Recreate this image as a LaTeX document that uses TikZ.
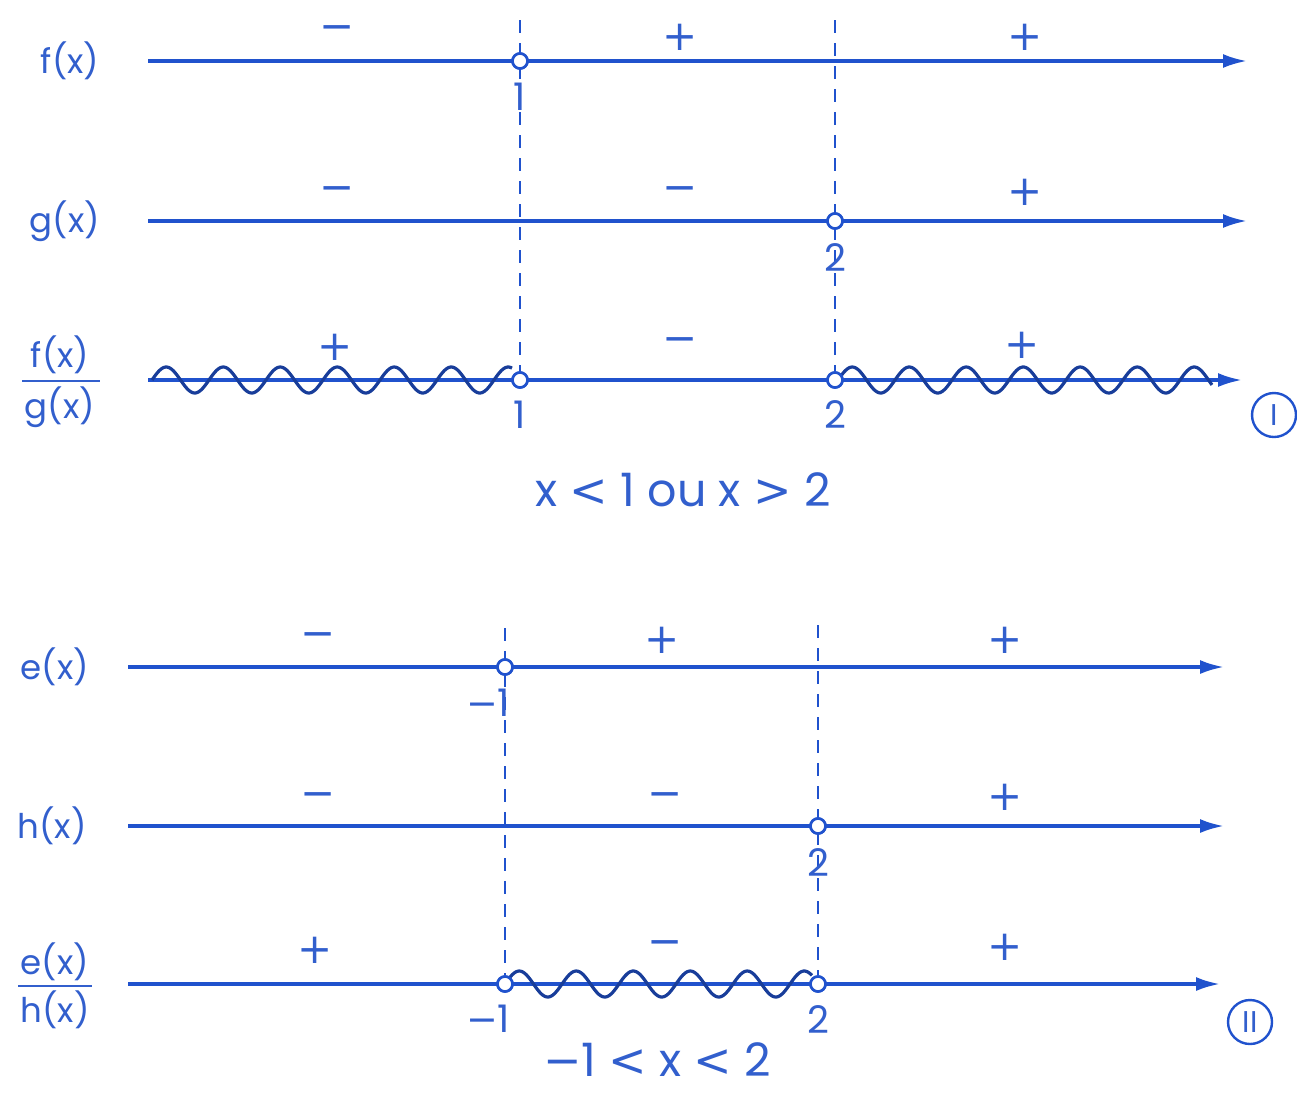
\documentclass[tikz,border=0pt]{standalone}
\usepackage{fontspec}
\setmainfont{Poppins}
\newfontfamily\symf{DejaVu Sans}
\usetikzlibrary{arrows.meta}
\definecolor{ink}{RGB}{32,82,205}
\definecolor{txt}{RGB}{50,95,205}
\begin{document}
\begin{tikzpicture}[x=1pt,y=-1pt,
 axis/.style={draw=ink,line width=3.2pt,-{Latex[length=24pt,width=14pt]}},
 opendot/.style={circle,draw=ink,fill=white,line width=2.6pt,minimum size=15pt,inner sep=0pt},
 guide/.style={draw=ink,line width=2.4pt,dash pattern=on 13pt off 10pt},
 wave/.style={draw=ink!75!black,line width=3.2pt},
 fn/.style={text=txt,font=\fontsize{34}{40}\selectfont,inner sep=0pt},
 sgn/.style={text=txt,font=\symf\fontsize{42}{46}\selectfont,inner sep=0pt},
 num/.style={text=txt,font=\fontsize{38}{44}\selectfont,inner sep=0pt},
 sol/.style={text=txt,font=\fontsize{46}{52}\selectfont,inner sep=0pt},
 tag/.style={circle,draw=ink,line width=2.4pt,minimum size=44pt,inner sep=0pt,text=txt,font=\fontsize{30}{34}\selectfont},
 bar/.style={draw=txt,line width=2.8pt}
]
\useasboundingbox (0,0) rectangle (1297,1096);

% ---------- Section I ----------
\coordinate (fS) at (148,61);  \coordinate (fE) at (1247,61);
\coordinate (gS) at (148,221); \coordinate (gE) at (1247,221);
\coordinate (qS) at (148,380); \coordinate (qE) at (1242,380);
\coordinate (t1) at (520,20);  \coordinate (t2) at (835,20);

\node[fn] (fl) at (70,61) {f(x)};
\node[fn] (gl) at (65,221) {g(x)};
\node[fn] (qn) at (60,355) {f(x)};
\node[fn] (qd) at (60,407) {g(x)};
\coordinate (qb1) at (22,381); \coordinate (qb2) at (100,381);
\draw[bar] (qb1) -- (qb2);

\draw[axis] (fS) -- (fE);
\draw[axis] (gS) -- (gE);
\draw[axis] (qS) -- (qE);

\draw[wave] plot[domain=152:512,samples=240,smooth] (\x,{380-13*sin((\x-152)/57*360)});
\draw[wave] plot[domain=838:1212,samples=240,smooth] (\x,{380-13*sin((\x-838)/57*360)});

\node[opendot] (f1) at (520,61) {};
\node[opendot] (g2) at (835,221) {};
\node[opendot] (q1) at (520,380) {};
\node[opendot] (q2) at (835,380) {};
\draw[guide] (t1) -- (q1);
\draw[guide] (t2) -- (q2);
\node[opendot] at (f1) {};
\node[opendot] at (g2) {};
\node[opendot] at (q1) {};
\node[opendot] at (q2) {};

\node[num] (n1a) at (520,97) {1};
\node[num] (n2a) at (835,258) {2};
\node[num] (n1b) at (520,415) {1};
\node[num] (n2b) at (835,415) {2};

\node[sgn] (s11) at (337,33) {−};
\node[sgn] (s12) at (680,37) {+};
\node[sgn] (s13) at (1025,37) {+};
\node[sgn] (s21) at (337,194) {−};
\node[sgn] (s22) at (680,194) {−};
\node[sgn] (s23) at (1025,192) {+};
\node[sgn] (s31) at (335,347) {+};
\node[sgn] (s32) at (680,345) {−};
\node[sgn] (s33) at (1022,345) {+};

\node[tag] (tI) at (1274,415) {I};
\node[sol] (solI) at (683,490) {x {\symf <} 1 ou x {\symf >} 2};

% ---------- Section II ----------
\coordinate (eS) at (128,667);  \coordinate (eE) at (1224,667);
\coordinate (hS) at (128,826);  \coordinate (hE) at (1224,826);
\coordinate (rS) at (128,984);  \coordinate (rE) at (1220,984);
\coordinate (u1) at (505,628);  \coordinate (u2) at (818,625);

\node[fn] (el) at (55,667) {e(x)};
\node[fn] (hl) at (52,826) {h(x)};
\node[fn] (rn) at (55,962) {e(x)};
\node[fn] (rd) at (55,1010) {h(x)};
\coordinate (rb1) at (18,986); \coordinate (rb2) at (92,986);
\draw[bar] (rb1) -- (rb2);

\draw[axis] (eS) -- (eE);
\draw[axis] (hS) -- (hE);
\draw[axis] (rS) -- (rE);

\draw[wave] plot[domain=505:812,samples=220,smooth] (\x,{984-13*sin((\x-505)/57*360)});

\node[opendot] (e1) at (505,667) {};
\node[opendot] (h2) at (818,826) {};
\node[opendot] (r1) at (505,984) {};
\node[opendot] (r2) at (818,984) {};
\draw[guide] (u1) -- (r1);
\draw[guide] (u2) -- (r2);
\node[opendot] at (e1) {};
\node[opendot] at (h2) {};
\node[opendot] at (r1) {};
\node[opendot] at (r2) {};

\node[num] (m1a) at (488,703) {{\symf −}1};
\node[num] (m2a) at (818,862) {2};
\node[num] (m1b) at (488,1019) {{\symf −}1};
\node[num] (m2b) at (818,1019) {2};

\node[sgn] (v11) at (318,640) {−};
\node[sgn] (v12) at (662,640) {+};
\node[sgn] (v13) at (1005,640) {+};
\node[sgn] (v21) at (318,800) {−};
\node[sgn] (v22) at (665,800) {−};
\node[sgn] (v23) at (1005,797) {+};
\node[sgn] (v31) at (315,950) {+};
\node[sgn] (v32) at (665,948) {−};
\node[sgn] (v33) at (1005,947) {+};

\node[tag] (tII) at (1250,1022) {II};
\node[sol] (solII) at (657,1060) {{\symf −}1 {\symf <} x {\symf <} 2};
\end{tikzpicture}
\end{document}
